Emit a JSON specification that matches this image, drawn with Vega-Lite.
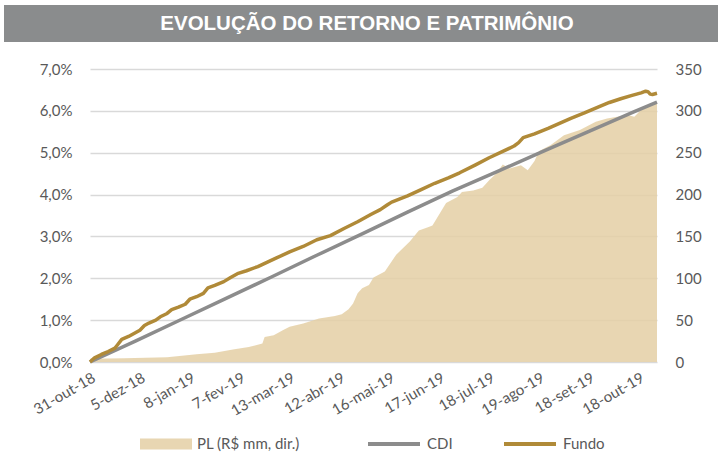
{
  "$schema": "https://vega.github.io/schema/vega-lite/v6.json",
  "background": "white",
  "padding": {"left": 4, "top": 5, "right": 3, "bottom": 0},
  "spacing": 20,
  "config": {"view": {"stroke": null}, "font": "Lato", "axis": {"labelFont": "Lato", "labelFontSize": 15, "labelColor": "#595959"}, "legend": {"labelFont": "Lato", "labelFontSize": 15, "labelColor": "#595959"}},
  "datasets": {
    "pl": [
      {"du": 0, "pl": 4}, {"du": 15, "pl": 4.5}, {"du": 34, "pl": 5.6}, {"du": 47, "pl": 9.3}, {"du": 55, "pl": 11}, {"du": 63, "pl": 15},
      {"du": 70, "pl": 18}, {"du": 76, "pl": 22}, {"du": 77, "pl": 30}, {"du": 81, "pl": 32}, {"du": 85, "pl": 38}, {"du": 88, "pl": 42},
      {"du": 94, "pl": 46}, {"du": 101, "pl": 52}, {"du": 108, "pl": 55}, {"du": 111, "pl": 57}, {"du": 114, "pl": 63}, {"du": 116, "pl": 70},
      {"du": 118, "pl": 82}, {"du": 120, "pl": 88}, {"du": 123, "pl": 92}, {"du": 125, "pl": 101}, {"du": 130, "pl": 108}, {"du": 135, "pl": 128},
      {"du": 141, "pl": 144}, {"du": 145, "pl": 157}, {"du": 149, "pl": 161}, {"du": 151, "pl": 163}, {"du": 153, "pl": 172}, {"du": 157, "pl": 190},
      {"du": 162, "pl": 197}, {"du": 164, "pl": 203}, {"du": 169, "pl": 205}, {"du": 173, "pl": 208}, {"du": 176, "pl": 217}, {"du": 179, "pl": 225},
      {"du": 182, "pl": 236}, {"du": 185, "pl": 231}, {"du": 190, "pl": 235}, {"du": 193, "pl": 229}, {"du": 196, "pl": 240}, {"du": 198, "pl": 252},
      {"du": 203, "pl": 259}, {"du": 209, "pl": 271}, {"du": 216, "pl": 277}, {"du": 223, "pl": 287}, {"du": 228, "pl": 291}, {"du": 237, "pl": 295},
      {"du": 240, "pl": 293}, {"du": 244, "pl": 304}, {"du": 249, "pl": 310}, {"du": 250, "pl": 310}
    ],
    "retorno": [
      {"du": 0, "serie": "CDI", "valor": 0}, {"du": 20, "serie": "CDI", "valor": 0.5}, {"du": 40, "serie": "CDI", "valor": 1.01},
      {"du": 60, "serie": "CDI", "valor": 1.52}, {"du": 80, "serie": "CDI", "valor": 2.03}, {"du": 100, "serie": "CDI", "valor": 2.55},
      {"du": 120, "serie": "CDI", "valor": 3.06}, {"du": 140, "serie": "CDI", "valor": 3.58}, {"du": 160, "serie": "CDI", "valor": 4.09},
      {"du": 180, "serie": "CDI", "valor": 4.56}, {"du": 200, "serie": "CDI", "valor": 5.04}, {"du": 220, "serie": "CDI", "valor": 5.51},
      {"du": 240, "serie": "CDI", "valor": 5.98}, {"du": 250, "serie": "CDI", "valor": 6.21},
      {"du": 0, "serie": "Fundo", "valor": 0}, {"du": 2, "serie": "Fundo", "valor": 0.1}, {"du": 5, "serie": "Fundo", "valor": 0.18},
      {"du": 8, "serie": "Fundo", "valor": 0.25}, {"du": 11, "serie": "Fundo", "valor": 0.33}, {"du": 12, "serie": "Fundo", "valor": 0.4},
      {"du": 14, "serie": "Fundo", "valor": 0.54}, {"du": 17, "serie": "Fundo", "valor": 0.61}, {"du": 20, "serie": "Fundo", "valor": 0.7},
      {"du": 22, "serie": "Fundo", "valor": 0.76}, {"du": 24, "serie": "Fundo", "valor": 0.87}, {"du": 26, "serie": "Fundo", "valor": 0.93},
      {"du": 29, "serie": "Fundo", "valor": 1.0}, {"du": 31, "serie": "Fundo", "valor": 1.08}, {"du": 34, "serie": "Fundo", "valor": 1.16},
      {"du": 36, "serie": "Fundo", "valor": 1.25}, {"du": 39, "serie": "Fundo", "valor": 1.31}, {"du": 42, "serie": "Fundo", "valor": 1.38},
      {"du": 44, "serie": "Fundo", "valor": 1.5}, {"du": 47, "serie": "Fundo", "valor": 1.56}, {"du": 50, "serie": "Fundo", "valor": 1.64},
      {"du": 52, "serie": "Fundo", "valor": 1.77}, {"du": 55, "serie": "Fundo", "valor": 1.83}, {"du": 59, "serie": "Fundo", "valor": 1.92},
      {"du": 62, "serie": "Fundo", "valor": 2.02}, {"du": 65, "serie": "Fundo", "valor": 2.11}, {"du": 69, "serie": "Fundo", "valor": 2.18},
      {"du": 74, "serie": "Fundo", "valor": 2.28}, {"du": 78, "serie": "Fundo", "valor": 2.38}, {"du": 82, "serie": "Fundo", "valor": 2.48},
      {"du": 88, "serie": "Fundo", "valor": 2.63}, {"du": 94, "serie": "Fundo", "valor": 2.76}, {"du": 100, "serie": "Fundo", "valor": 2.92},
      {"du": 106, "serie": "Fundo", "valor": 3.02}, {"du": 112, "serie": "Fundo", "valor": 3.19}, {"du": 118, "serie": "Fundo", "valor": 3.35},
      {"du": 124, "serie": "Fundo", "valor": 3.53}, {"du": 128, "serie": "Fundo", "valor": 3.64}, {"du": 131, "serie": "Fundo", "valor": 3.75},
      {"du": 133, "serie": "Fundo", "valor": 3.82}, {"du": 140, "serie": "Fundo", "valor": 3.97}, {"du": 146, "serie": "Fundo", "valor": 4.12},
      {"du": 152, "serie": "Fundo", "valor": 4.27}, {"du": 158, "serie": "Fundo", "valor": 4.4}, {"du": 163, "serie": "Fundo", "valor": 4.52},
      {"du": 170, "serie": "Fundo", "valor": 4.71}, {"du": 176, "serie": "Fundo", "valor": 4.88}, {"du": 182, "serie": "Fundo", "valor": 5.03},
      {"du": 187, "serie": "Fundo", "valor": 5.16}, {"du": 189, "serie": "Fundo", "valor": 5.24}, {"du": 191, "serie": "Fundo", "valor": 5.36},
      {"du": 196, "serie": "Fundo", "valor": 5.45}, {"du": 202, "serie": "Fundo", "valor": 5.58}, {"du": 207, "serie": "Fundo", "valor": 5.7},
      {"du": 212, "serie": "Fundo", "valor": 5.82}, {"du": 218, "serie": "Fundo", "valor": 5.95}, {"du": 224, "serie": "Fundo", "valor": 6.09},
      {"du": 229, "serie": "Fundo", "valor": 6.2}, {"du": 234, "serie": "Fundo", "valor": 6.29}, {"du": 239, "serie": "Fundo", "valor": 6.37},
      {"du": 243, "serie": "Fundo", "valor": 6.43}, {"du": 245, "serie": "Fundo", "valor": 6.47}, {"du": 246, "serie": "Fundo", "valor": 6.46},
      {"du": 247, "serie": "Fundo", "valor": 6.4}, {"du": 248, "serie": "Fundo", "valor": 6.39}, {"du": 250, "serie": "Fundo", "valor": 6.42}
    ]
  },
  "vconcat": [
    {
      "width": 714,
      "height": 37,
      "view": {"fill": "#8a8c8d", "stroke": null},
      "data": {"values": [{"titulo": "EVOLUÇÃO DO RETORNO E PATRIMÔNIO"}]},
      "mark": {"type": "text", "font": "Liberation Sans", "fontWeight": "bold", "fontSize": 20.5, "color": "white", "dx": 6},
      "encoding": {"text": {"field": "titulo", "type": "nominal"}}
    },
    {
      "width": 653,
      "height": 293,
      "encoding": {
        "x": {
          "field": "du",
          "type": "quantitative",
          "scale": {"domain": [0, 250], "range": [86, 653], "nice": false, "zero": false},
          "axis": {
            "title": null,
            "values": [0, 22, 44, 66, 88, 110, 132, 154, 176, 198, 220, 242],
            "labelExpr": "['31-out-18','5-dez-18','8-jan-19','7-fev-19','13-mar-19','12-abr-19','16-mai-19','17-jun-19','18-jul-19','19-ago-19','18-set-19','18-out-19'][round(datum.value/22)]",
            "labelAngle": -30,
            "labelPadding": 8,
            "labelOverlap": false,
            "labelBound": false,
            "labelFlush": false,
            "ticks": false,
            "domain": false,
            "grid": false
          }
        }
      },
      "layer": [
        {
          "data": {"name": "pl"},
          "mark": {"type": "area", "opacity": 0.85},
          "encoding": {
            "y": {
              "field": "pl",
              "type": "quantitative",
              "scale": {"domain": [0, 350], "nice": false},
              "axis": {"orient": "right", "title": null, "values": [0, 50, 100, 150, 200, 250, 300, 350], "ticks": false, "domain": false, "grid": false, "labelPadding": 18}
            },
            "fill": {
              "datum": "PL (R$ mm, dir.)",
              "type": "nominal",
              "scale": {"range": ["#e4cfa4"]},
              "legend": {
                "title": null,
                "orient": "none",
                "legendX": 136,
                "legendY": 413,
                "symbolType": "M-1,-0.21H1V0.21H-1Z",
                "symbolSize": 2704,
                "symbolStrokeWidth": 0,
                "labelOffset": 5
              }
            }
          }
        },
        {
          "data": {"name": "retorno"},
          "mark": {"type": "line", "strokeWidth": 3.5, "strokeJoin": "round"},
          "encoding": {
            "y": {
              "field": "valor",
              "type": "quantitative",
              "scale": {"domain": [0, 7], "nice": false},
              "axis": {
                "orient": "left",
                "title": null,
                "values": [0, 1, 2, 3, 4, 5, 6, 7],
                "labelExpr": "replace(format(datum.value, '.1f'), '.', ',') + '%'",
                "ticks": false,
                "domain": false,
                "grid": true,
                "gridColor": "#d9d9d9",
                "gridWidth": 1.3,
                "labelPadding": 18,
                "offset": -86
              }
            },
            "color": {
              "field": "serie",
              "type": "nominal",
              "scale": {"domain": ["CDI", "Fundo"], "range": ["#8c8c8c", "#b08a38"]},
              "legend": {
                "title": null,
                "orient": "none",
                "direction": "horizontal",
                "columns": 2,
                "legendX": 362,
                "legendY": 411,
                "symbolType": "stroke",
                "symbolSize": 2704,
                "symbolStrokeWidth": 4,
                "labelOffset": 5,
                "columnPadding": 43
              }
            }
          }
        }
      ],
      "resolve": {"scale": {"y": "independent"}}
    }
  ]
}
